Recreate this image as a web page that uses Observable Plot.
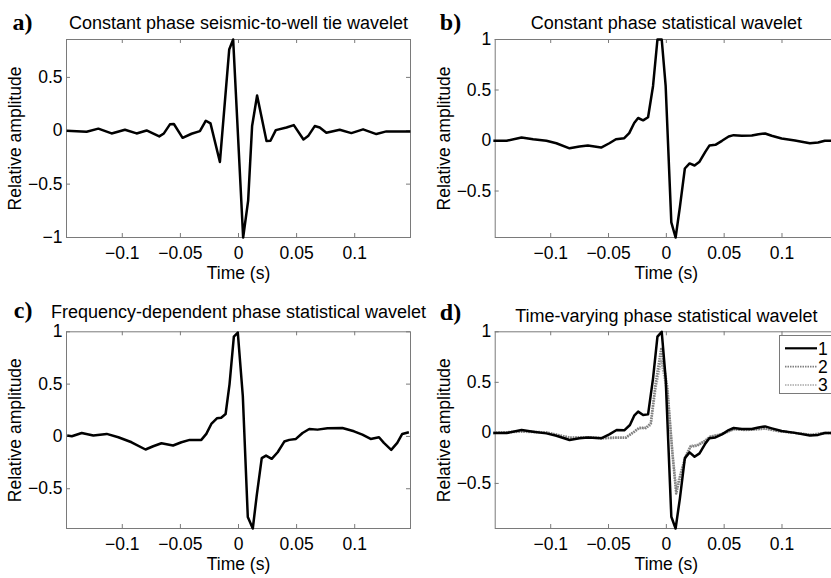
<!DOCTYPE html>
<html>
<head>
<meta charset="utf-8">
<script src="https://cdn.jsdelivr.net/npm/d3@7"></script>
<script src="https://cdn.jsdelivr.net/npm/@observablehq/plot@0.6"></script>
<style>
  html, body { margin: 0; padding: 0; background: #fff; overflow: hidden; }
  #fig { position: relative; width: 831px; height: 578px; overflow: hidden; background: #fff; }
  #fig > svg, #fig > figure { position: absolute; margin: 0; }
</style>
</head>
<body>
<div id="fig"></div>
<script>
// ---------- data ----------
const xTicks = [-0.1, -0.05, 0, 0.05, 0.1];
const yTicksA = [-1, -0.5, 0, 0.5];
const yTicksB = [-0.5, 0, 0.5, 1];

const titles = [
  "Constant phase seismic-to-well tie wavelet",
  "Constant phase statistical wavelet",
  "Frequency-dependent phase statistical wavelet",
  "Time-varying phase statistical wavelet"
];
const tags = ["a)", "b)", "c)", "d)"];
const xLabel = "Time (s)";
const yLabel = "Relative amplitude";
const legendLabels = ["1", "2", "3"];

// a) constant phase seismic-to-well tie wavelet
const timeA = [-0.1479, -0.1307, -0.1206, -0.1092, -0.0977, -0.0877, -0.0791, -0.0682, -0.0642, -0.0590,
  -0.0556, -0.0481, -0.0404, -0.0332, -0.0281, -0.0241, -0.0160, -0.0080, -0.0046, 0.0040,
  0.0083, 0.0117, 0.0160, 0.0241, 0.0275, 0.0321, 0.0413, 0.0476, 0.0559, 0.0599,
  0.0656, 0.0699, 0.0756, 0.0871, 0.0971, 0.1072, 0.1186, 0.1272, 0.1479];
const ampA = [0, -0.01, 0.02, -0.025, 0.01, -0.025, 0.003, -0.053, -0.025, 0.06,
  0.063, -0.066, -0.028, -0.003, 0.094, 0.069, -0.292, 0.761, 0.855, -1.0,
  -0.654, 0.044, 0.33, -0.097, -0.094, 0.006, 0.031, 0.053, -0.082, -0.05,
  0.044, 0.031, -0.019, 0.009, -0.022, 0.013, -0.031, -0.006, -0.006];

// b) constant phase statistical wavelet
const timeB = [-0.1496, -0.1381, -0.1252, -0.1152, -0.1037, -0.0951, -0.0837, -0.0751, -0.0679, -0.0564,
  -0.0493, -0.0436, -0.0364, -0.0321, -0.0278, -0.0244, -0.0201, -0.0158, -0.0115, -0.0077,
  -0.0040, -0.0006, 0.0043, 0.0080, 0.0117, 0.0160, 0.0201, 0.0244, 0.0287, 0.0338,
  0.0372, 0.0424, 0.0481, 0.0539, 0.0582, 0.0653, 0.0739, 0.0797, 0.0854, 0.0911,
  0.0997, 0.1112, 0.1241, 0.1312, 0.1370, 0.1480];
const ampB = [-0.003, -0.003, 0.03, 0.013, -0.003, -0.027, -0.077, -0.06, -0.05, -0.07,
  -0.027, 0.013, 0.023, 0.073, 0.173, 0.223, 0.2, 0.23, 0.54, 1.0,
  1.0, 0.54, -0.81, -0.96, -0.66, -0.277, -0.227, -0.247, -0.21, -0.11,
  -0.05, -0.043, -0.003, 0.04, 0.053, 0.047, 0.05, 0.063, 0.07, 0.047,
  0.02, 0, -0.027, -0.02, -0.003, -0.003];

// c) frequency-dependent phase statistical wavelet
const timeC = [-0.1474, -0.1434, -0.1349, -0.1249, -0.1134, -0.1034, -0.0920, -0.0800, -0.0734, -0.0663,
  -0.0563, -0.0491, -0.0420, -0.0320, -0.0277, -0.0234, -0.0186, -0.0149, -0.0111, -0.0077,
  -0.0040, -0.0006, 0.0037, 0.0080, 0.0123, 0.0157, 0.0200, 0.0237, 0.0286, 0.0337,
  0.0394, 0.0437, 0.0494, 0.0551, 0.0609, 0.0680, 0.0766, 0.0894, 0.0994, 0.1066,
  0.1137, 0.1209, 0.1251, 0.1314, 0.1366, 0.1409, 0.1466];
const ampC = [0.008, 0.002, 0.033, 0.008, 0.024, -0.008, -0.056, -0.125, -0.094, -0.065,
  -0.087, -0.056, -0.033, -0.033, 0.024, 0.119, 0.173, 0.179, 0.214, 0.5,
  0.954, 0.992, 0.389, -0.77, -0.88, -0.563, -0.208, -0.183, -0.214, -0.151,
  -0.049, -0.033, -0.024, 0.033, 0.071, 0.065, 0.078, 0.081, 0.049, 0.017,
  -0.024, -0.008, -0.062, -0.128, -0.062, 0.024, 0.04];

// d) time-varying phase statistical wavelet, series 1, 2, 3
const timeD1 = [-0.1496, -0.1381, -0.1252, -0.1152, -0.1037, -0.0951, -0.0837, -0.0751, -0.0679, -0.0564,
  -0.0493, -0.0430, -0.0364, -0.0315, -0.0278, -0.0244, -0.0201, -0.0158, -0.0115, -0.0077,
  -0.0040, -0.0006, 0.0043, 0.0080, 0.0117, 0.0160, 0.0201, 0.0244, 0.0287, 0.0338,
  0.0372, 0.0424, 0.0481, 0.0539, 0.0582, 0.0653, 0.0739, 0.0797, 0.0854, 0.0911,
  0.0997, 0.1112, 0.1241, 0.1312, 0.1370, 0.1480];
const ampD1 = [-0.002, -0.002, 0.028, 0.012, -0.005, -0.028, -0.071, -0.054, -0.045, -0.054,
  -0.015, 0.028, 0.025, 0.078, 0.17, 0.21, 0.177, 0.183, 0.54, 0.952,
  1.0, 0.54, -0.83, -0.946, -0.65, -0.25, -0.193, -0.236, -0.203, -0.104,
  -0.054, -0.045, -0.015, 0.028, 0.048, 0.038, 0.038, 0.054, 0.064, 0.045,
  0.018, 0, -0.025, -0.02, -0.002, -0.002];
const timeD23 = [-0.1496, -0.1252, -0.1037, -0.0837, -0.0679, -0.0550, -0.0436, -0.0350, -0.0278, -0.0235,
  -0.0178, -0.0135, -0.0092, -0.0045, 0.0009, 0.0052, 0.0085, 0.0123, 0.0166, 0.0209,
  0.0266, 0.0324, 0.0381, 0.0453, 0.0510, 0.0582, 0.0682, 0.0797, 0.0854, 0.0968,
  0.1112, 0.1255, 0.1370, 0.1480];
const ampD2 = [0, 0.015, 0.005, -0.048, -0.045, -0.054, -0.048, -0.048, 0.012, 0.05,
  0.05, 0.094, 0.5, 0.83, 0.45, -0.2, -0.6, -0.42, -0.24, -0.137,
  -0.127, -0.088, -0.038, -0.02, 0, 0.038, 0.03, 0.038, 0.045, 0.018,
  0, -0.02, 0, 0];
const ampD3 = [0, 0.012, 0.003, -0.045, -0.042, -0.05, -0.045, -0.045, 0.01, 0.045,
  0.045, 0.08, 0.45, 0.72, 0.40, -0.18, -0.56, -0.40, -0.23, -0.13,
  -0.12, -0.085, -0.036, -0.018, 0, 0.035, 0.028, 0.035, 0.042, 0.016,
  0, -0.018, 0, 0];

// ---------- helpers ----------
const zip = (ts, vs) => ts.map((t, i) => ({t, v: vs[i]}));
const SANS = "'Liberation Sans', Arial, Helvetica, sans-serif";
const SERIF = "'Liberation Serif', 'Times New Roman', serif";
const FRAME = "#7a7a7a";
const fmt = d3.format("~g");

function panel(cfg) {
  const {left, top, width, height, mL, mR, mT, mB, xDomain, yDomain, yTicks, title, tag, series,
    titleDy, tagDy} = cfg;
  const pw = width - mL - mR, ph = height - mT - mB;
  const marks = [
    Plot.frame({stroke: FRAME, strokeWidth: 1}),
    Plot.tickX(xTicks, {x: d => d, stroke: FRAME, insetTop: ph - 4}),
    Plot.tickX(xTicks, {x: d => d, stroke: FRAME, insetBottom: ph - 4}),
    Plot.tickY(yTicks, {y: d => d, stroke: FRAME, insetRight: pw - 4}),
    Plot.tickY(yTicks, {y: d => d, stroke: FRAME, insetLeft: pw - 4}),
    ...series.map(s => Plot.line(s.data, {x: "t", y: "v", stroke: s.stroke, strokeWidth: s.width,
      strokeDasharray: s.dash, strokeLinejoin: "round", strokeLinecap: "butt"})),
    Plot.text([title], {text: d => d, frameAnchor: "top", textAnchor: "middle", dy: titleDy, lineAnchor: "bottom",
      fontSize: 18, fill: "black"}),
    Plot.text([tag], {text: d => d, frameAnchor: "top-left", textAnchor: "end", dx: -34, dy: tagDy,
      lineAnchor: "bottom", fontFamily: SERIF, fontWeight: "bold", fontSize: 24, fill: "black"}),
    Plot.text([xLabel], {text: d => d, frameAnchor: "bottom", textAnchor: "middle", dy: 41, lineAnchor: "bottom",
      fontSize: 17.5, fill: "black"}),
    Plot.text([yLabel], {text: d => d, frameAnchor: "left", textAnchor: "middle", dx: -51, rotate: -90,
      fontSize: 17.5, fill: "black"})
  ];
  const svg = Plot.plot({
    width, height,
    marginLeft: mL, marginRight: mR, marginTop: mT, marginBottom: mB,
    x: {domain: xDomain, ticks: xTicks, tickFormat: fmt, tickSize: 0, tickPadding: 9, label: null},
    y: {domain: yDomain, ticks: yTicks, tickFormat: fmt, tickSize: 0, tickPadding: 4, label: null},
    style: {fontFamily: SANS, fontSize: "17.5px", color: "black", background: "transparent", overflow: "visible"},
    marks
  });
  svg.style.left = left + "px";
  svg.style.top = top + "px";
  document.getElementById("fig").appendChild(svg);
}

const black = data => ({data, stroke: "black", width: 2.5});

panel({left: 0, top: 0, width: 415, height: 288, mL: 66, mR: 5, mT: 39, mB: 51,
  xDomain: [-0.148, 0.148], yDomain: [-1, 0.855], yTicks: yTicksA,
  title: titles[0], tag: tags[0], titleDy: -11, tagDy: -10, series: [black(zip(timeA, ampA))]});

panel({left: 415, top: 0, width: 432, height: 288, mL: 79.7, mR: 10, mT: 39, mB: 51,
  xDomain: [-0.148, 0.148], yDomain: [-0.96, 1], yTicks: yTicksB,
  title: titles[1], tag: tags[1], titleDy: -11, tagDy: -10, series: [black(zip(timeB, ampB))]});

panel({left: 0, top: 288, width: 415, height: 290, mL: 66, mR: 5, mT: 43.3, mB: 50,
  xDomain: [-0.148, 0.148], yDomain: [-0.88, 1], yTicks: yTicksB,
  title: titles[2], tag: tags[2], titleDy: -14, tagDy: -14, series: [black(zip(timeC, ampC))]});

const styleD = [
  {stroke: "black", width: 2.5, dash: null},
  {stroke: "#808080", width: 2.5, dash: "1.5,1"},
  {stroke: "#a9a9a9", width: 2.5, dash: "1.5,1"}
];
panel({left: 415, top: 288, width: 432, height: 290, mL: 79.7, mR: 10, mT: 43.3, mB: 50,
  xDomain: [-0.148, 0.148], yDomain: [-0.946, 1], yTicks: yTicksB,
  title: titles[3], tag: tags[3], titleDy: -10, tagDy: -12, series: [
    {data: zip(timeD23, ampD3), ...styleD[2]},
    {data: zip(timeD23, ampD2), ...styleD[1]},
    {data: zip(timeD1, ampD1), ...styleD[0]}
  ]});

// ---------- legend for panel d ----------
const leg = d3.select("#fig").append("svg")
  .attr("width", 831).attr("height", 578)
  .style("left", "0px").style("top", "0px").style("pointer-events", "none");
leg.append("rect").attr("x", 779.5).attr("y", 335.5).attr("width", 70).attr("height", 58)
  .attr("fill", "white").attr("stroke", FRAME);
const legendWidths = [2.2, 1.6, 1.6];
legendLabels.forEach((lab, i) => {
  const y = 348.3 + i * 18.35;
  const s = styleD[i];
  leg.append("line").attr("x1", 785).attr("x2", 817).attr("y1", y).attr("y2", y)
    .attr("stroke", s.stroke).attr("stroke-width", legendWidths[i]).attr("stroke-dasharray", s.dash);
  leg.append("text").attr("x", 818).attr("y", y).attr("dy", "0.36em")
    .attr("font-family", SANS).attr("font-size", 17.5).attr("fill", "black").text(lab);
});
</script>
</body>
</html>
